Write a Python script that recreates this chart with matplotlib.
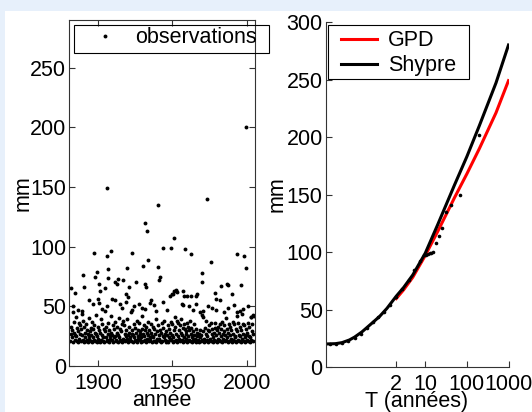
import numpy as np
import matplotlib.pyplot as plt
from matplotlib.patches import Rectangle

plt.rcParams['font.family'] = ['Liberation Sans', 'DejaVu Sans']
fs = 15.5

# ---- observations (left panel) ----
# dense part of the series: three events per year, starting in 1881
low_start = 1881
event_frac = [0.1, 0.45, 0.8]
low_mm = [
    [21,27,33],[24,30,45],[20,28,37],[22,26,41],[25,32,21],[20,29,36],[23,27,34],[21,31,44],[26,22,38],[20,33,28],
    [24,21,35],[22,30,27],[20,25,40],[23,29,32],[21,26,37],[20,24,31],[22,34,28],[21,27,43],[25,20,33],[23,30,21],
    [20,28,39],[22,35,26],[21,24,31],[20,29,46],[24,33,22],[21,27,36],[20,30,25],[23,42,28],[22,26,34],[20,31,24],
    [25,37,21],[22,28,33],[20,26,40],[24,31,22],[21,29,35],[20,23,38],[22,34,27],[21,25,30],[23,39,26],[20,28,33],
    [22,24,45],[21,30,27],[20,26,35],[24,32,22],[21,28,38],[20,25,30],[23,36,27],[22,29,24],[20,31,42],[21,27,34],
    [25,22,30],[20,33,28],[23,26,37],[21,30,24],[22,28,35],[20,25,33],[24,31,21],[21,27,39],[20,29,23],[22,34,26],
    [23,30,21],[20,28,36],[21,25,32],[24,38,27],[22,29,20],[21,26,34],[20,31,24],[23,28,37],[22,35,26],[20,24,30],
    [21,33,41],[22,27,38],[20,36,25],[23,30,34],[21,28,39],[22,26,32],[20,24,35],[21,31,27],[23,29,36],[20,25,33],
    [22,30,38],[21,27,32],[20,24,29],[22,26,35],[21,23,31],[20,25,28],[22,21,27],[20,24,30],[21,26,43],[22,29,41],
    [20,23,32],[21,27,38],[22,25,30],[20,29,34],[23,22,36],[21,27,31],[20,24,28],[22,32,36],[21,26,30],[20,33,23],
    [22,28,35],[21,25,31],[20,37,27],[23,29,34],[21,26,40],[22,31,24],[20,28,35],[21,33,26],[23,30,22],[20,27,37],
    [22,35,25],[21,24,31],[20,29,42],[22,36,26],[21,25,33],[20,30,44],[23,27,35],[21,34,24],[20,26,31],[22,28,36],
    [21,33,25],[20,24,41],[22,29,35],[21,27,42],
]
mid_years = [1883.3,1886.6,1889.2,1893.5,1896.4,1899.7,1900.5,1902.2,1905.8,1909.3,1911.6,1914.4,1916.2,1918.7,
             1920.3,1922.9,1924.1,1927.5,1929.2,1931.4,1934.6,1935.3,1937.8,1939.1,1943.3,1946.5,1948.2,1950.4,
             1952.6,1953.2,1956.7,1957.4,1959.6,1961.2,1963.5,1965.8,1968.3,1970.6,1974.2,1976.5,1979.3,1982.1,
             1984.7,1987.4,1991.2,1993.6,1995.5,1997.3,2000.8,2002.6,2004.4]
mid_mm = [50,47,46,55,52,56,53,48,50,56,55,52,49,54,58,47,50,52,49,48,53,55,51,46,54,47,59,60,63,62,52,51,
          59,50,47,52,45,46,50,49,47,55,45,49,51,45,46,48,50,41,43]
high_years = [1881.4,1884.5,1889.5,1890.6,1897.4,1897.8,1899.0,1900.3,1901.2,1906.0,1906.2,1906.4,1906.6,1904.3,
              1908.4,1911.3,1912.9,1913.6,1916.9,1919.2,1918.5,1920.4,1922.5,1925.2,1930.0,1931.7,1932.8,1933.8,
              1931.2,1932.3,1940.4,1940.1,1941.3,1941.0,1943.6,1948.8,1950.8,1949.4,1951.3,1952.5,1958.6,1957.2,
              1957.6,1962.7,1962.4,1966.1,1966.5,1969.7,1970.2,1973.1,1975.8,1978.7,1979.2,1982.7,1986.5,1987.3,
              1990.3,1993.4,1996.5,1998.0,1999.3,1999.7]
high_mm = [65,61,76,66,95,75,79,69,63,149,92,81,74,65,96,70,69,73,72,82,60,66,95,70,84,120,113,89,69,66,
           135,83,75,72,99,99,107,60,63,64,98,63,59,94,59,59,60,78,70,140,87,61,56,67,69,68,60,94,68,92,82,200]

# ---- return periods (right panel) ----
T_shypre = [0.04,0.07,0.1,0.15,0.2,0.3,0.5,0.8,1.2,2,3,5,10,20,50,100,200,500,1000]
mm_shypre = [20,20.3,21.2,23.5,26,30.5,37.5,44,51,61.5,69,80,99,124,158,183,210,247,280]
T_gpd = [2,3,5,10,20,50,100,200,500,1000]
mm_gpd = [59.5,67,78,97,118,147,168,190,221,249]
T_emp = [0.05,0.07,0.1,0.14,0.2,0.28,0.4,0.55,0.75,1.0,1.4,2.0,2.8,4.0,5.5,7.5,9.5,
         10.6,11.5,12.7,13.8,15.3,17.7,21.3,25.6,32,42,70,195]
mm_emp = [20,20.3,21,22.5,25.5,29,34,39,43.5,48,54,61,68,76,84,92,97,
          97.4,98.5,99.4,99.5,100.3,107.6,113.9,120.6,135,141,149.6,201.7]

low_years = [low_start + i + event_frac[j] for i, v in enumerate(low_mm) for j in range(len(v))]
low_vals = [x for v in low_mm for x in v]
years = np.concatenate([low_years, mid_years, high_years])
vals = np.concatenate([low_vals, mid_mm, high_mm])

W, H = 532, 412
fig = plt.figure(figsize=(W / 100, H / 100), dpi=100)
fig.patch.set_facecolor('#e7f0fb')
fig.add_artist(Rectangle((5 / W, 0), 1 - 5 / W, 1 - 11 / H, transform=fig.transFigure,
                         facecolor='white', edgecolor='none', zorder=-5))

spine_col = '0.2'

# left panel
ax1 = fig.add_axes([69 / W, 1 - 366 / H, 186 / W, 346 / H])
ax1.plot(years, vals, 'o', color='black', ms=2.8, mec='none', label='observations')
ax1.set_xlim(1880.3, 2005.6)
ax1.set_ylim(0, 290)
ax1.set_xticks([1900, 1950, 2000])
ax1.set_yticks(np.arange(0, 251, 50))
ax1.tick_params(direction='in', length=4, width=0.8, color=spine_col, labelsize=fs,
                top=True, right=True)
ax1.tick_params(axis='x', pad=5)
ax1.tick_params(axis='y', pad=2)
for s in ax1.spines.values():
    s.set_color(spine_col)
    s.set_linewidth(0.8)
ax1.set_xlabel('année', fontsize=fs)
ax1.set_ylabel('mm', fontsize=fs)
ax1.xaxis.set_label_coords(0.5, -0.07)
ax1.yaxis.set_label_coords(-0.19, 0.5)
ax1.legend(loc='upper left', bbox_to_anchor=(74 / W, 1 - 25 / H), bbox_transform=fig.transFigure,
           borderaxespad=0, borderpad=0.1, frameon=False, numpoints=1, handlelength=2.7,
           handletextpad=0.05, fontsize=fs, markerscale=1.0)
fig.add_artist(Rectangle((74 / W, 1 - 53 / H), 195 / W, 28 / H, transform=fig.transFigure,
                         fill=False, edgecolor='black', lw=0.8, zorder=5))

# right panel
ax2 = fig.add_axes([325.5 / W, 1 - 367 / H, 183 / W, 345 / H])
ax2.plot(T_gpd, mm_gpd, color='red', lw=2.2, label='GPD')
ax2.plot(T_shypre, mm_shypre, color='black', lw=2.2, label='Shypre')
ax2.plot(T_emp, mm_emp, 'o', color='black', ms=2.6, mec='none')
ax2.set_xscale('log')
ax2.set_xlim(0.04, 1000)
ax2.set_ylim(0, 300)
ax2.set_xticks([2, 10, 100, 1000])
ax2.set_xticklabels(['2', '10', '100', '1000'])
ax2.xaxis.set_minor_locator(plt.NullLocator())
ax2.set_yticks(np.arange(0, 301, 50))
ax2.tick_params(direction='in', length=4, width=0.8, color=spine_col, labelsize=fs)
ax2.tick_params(axis='x', pad=5)
ax2.tick_params(axis='y', pad=2)
ax2.spines['top'].set_visible(False)
ax2.spines['right'].set_visible(False)
for s in ['left', 'bottom']:
    ax2.spines[s].set_color(spine_col)
    ax2.spines[s].set_linewidth(0.8)
ax2.set_xlabel('T (années)', fontsize=fs)
ax2.set_ylabel('mm', fontsize=fs)
ax2.xaxis.set_label_coords(0.5, -0.07)
ax2.yaxis.set_label_coords(-0.21, 0.5)
ax2.legend(loc='upper left', bbox_to_anchor=(339 / W, 1 - 28 / H), bbox_transform=fig.transFigure,
           borderaxespad=0, borderpad=0.1, frameon=False, handlelength=1.67,
           handletextpad=0.51, labelspacing=0.2, fontsize=fs)
fig.add_artist(Rectangle((328 / W, 1 - 79 / H), 141 / W, 54 / H, transform=fig.transFigure,
                         fill=False, edgecolor='black', lw=0.8, zorder=5))

fig.savefig('out.png', dpi=100)
